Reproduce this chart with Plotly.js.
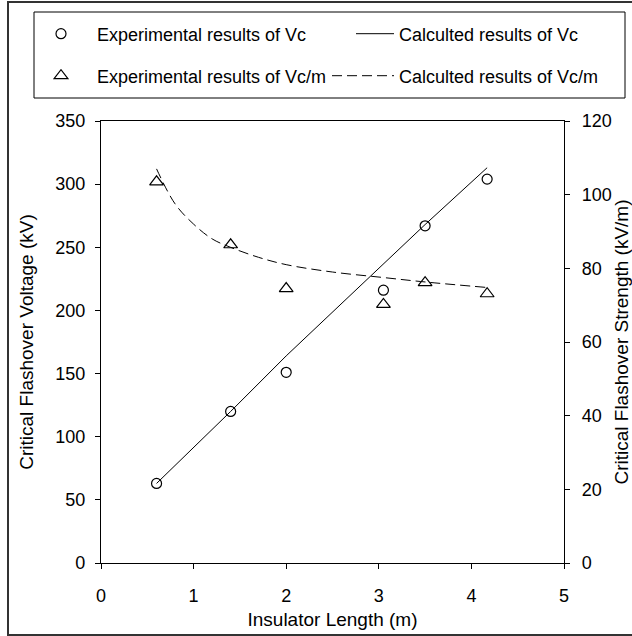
<!DOCTYPE html>
<html>
<head>
<meta charset="utf-8">
<script src="https://cdn.plot.ly/plotly-3.0.1.min.js"></script>
<style>html,body{margin:0;padding:0;background:#fff;}#chart{width:632px;height:636px;}</style>
</head>
<body>
<div id="chart"></div>
<script>
// Insulator length (m)
var lengthExp = [0.6, 1.4, 2.0, 3.05, 3.5, 4.17];
// Experimental critical flashover voltage (kV)
var vcExp = [63, 120, 151, 216, 267, 304];
// Calculated critical flashover voltage (kV)
var lengthCalc = [0.6, 1.4, 2.0, 3.05, 3.5, 4.17];
var vcCalc = [63, 120, 164, 237, 268, 313];
// Experimental critical flashover strength (kV/m)
var vcmExp = [103.5, 86.4, 74.5, 70.2, 76.1, 73.1];
// Calculated critical flashover strength (kV/m)
var lengthCalcM = [0.6, 0.8, 1.0, 1.2, 1.4, 1.7, 2.0, 2.5, 3.05, 3.5, 4.17];
var vcmCalc = [107, 97.5, 92, 88, 85.7, 83, 81, 79, 77.5, 76.3, 74.8];

var names = ["Experimental results of Vc", "Calculted results of Vc",
             "Experimental results of Vc/m", "Calculted results of Vc/m"];

var W = 632, H = 636, ML = 101, MR = 68, MT = 121, MB = 73;
var PW = W - ML - MR, PH = H - MT - MB;
function px(x) { return (x - ML) / PW; }
function py(y) { return (H - MB - y) / PH; }

var FONT = "Liberation Sans, Arial, sans-serif";
var traces = [
  { x: lengthExp, y: vcExp, name: names[0], type: "scatter", mode: "markers",
    marker: { symbol: "circle-open", size: 10, color: "#000", line: { width: 1.2, color: "#000" } },
    legend: "legend", yaxis: "y" },
  { x: lengthCalc, y: vcCalc, name: names[1], type: "scatter", mode: "lines",
    line: { color: "#000", width: 1 }, legend: "legend2", yaxis: "y" },
  { x: lengthExp, y: vcmExp, name: names[2], type: "scatter", mode: "markers",
    marker: { symbol: "triangle-up-open", size: 12, color: "#000", line: { width: 1.2, color: "#000" } },
    legend: "legend3", yaxis: "y2" },
  { x: lengthCalcM, y: vcmCalc, name: names[3], type: "scatter", mode: "lines",
    line: { color: "#000", width: 1, dash: "10px,5px", shape: "spline" }, legend: "legend4", yaxis: "y2" }
];

function leg(xp, yp, iw) {
  return { x: px(xp), y: py(yp), xanchor: "left", yanchor: "middle", orientation: "v",
           bgcolor: "rgba(0,0,0,0)", borderwidth: 0, itemwidth: iw,
           font: { family: FONT, size: 18, color: "#000" } };
}

var axisCommon = { showgrid: false, zeroline: false, showline: true, linecolor: "#000", linewidth: 1.2,
                   ticks: "outside", ticklen: 5, tickcolor: "#000", tickwidth: 1,
                   tickfont: { family: FONT, size: 18, color: "#000" } };
var titleFont = { family: FONT, size: 19, color: "#000" };

var layout = {
  width: W, height: H,
  margin: { l: ML, r: MR, t: MT, b: MB, pad: 0 },
  paper_bgcolor: "#fff", plot_bgcolor: "#fff",
  font: { family: FONT, size: 18, color: "#000" },
  showlegend: true,
  xaxis: Object.assign({}, axisCommon, { range: [0, 5], dtick: 1, tick0: 0, mirror: true, ticklabelstandoff: 11,
    title: { text: "Insulator Length (m)", font: titleFont, standoff: 8 } }),
  yaxis: Object.assign({}, axisCommon, { range: [0, 350], dtick: 50, tick0: 0, ticklabelstandoff: 6,
    title: { text: "Critical Flashover Voltage (kV)", font: titleFont, standoff: 16 } }),
  yaxis2: Object.assign({}, axisCommon, { range: [0, 120], dtick: 20, tick0: 0, overlaying: "y", side: "right",
    ticklabelstandoff: 8,
    title: { text: "Critical Flashover Strength (kV/m)", font: titleFont, standoff: 1 } }),
  yaxis3: { range: [0, 120], dtick: 20, tick0: 0, overlaying: "y", side: "right", showgrid: false, zeroline: false,
    showline: false, ticks: "inside", ticklen: 6, tickcolor: "#000", tickwidth: 1, showticklabels: false },
  legend: leg(25, 34, 62),
  legend2: leg(351, 34, 38),
  legend3: leg(25, 76, 62),
  legend4: leg(327, 76, 62),
  shapes: [
    { type: "rect", xref: "paper", yref: "paper", x0: px(34), x1: px(625), y0: py(98), y1: py(12),
      line: { color: "#000", width: 1 }, fillcolor: "rgba(0,0,0,0)" },
    { type: "rect", xref: "paper", yref: "paper", x0: px(8), x1: px(650), y0: py(635), y1: py(2),
      line: { color: "#333", width: 2 }, fillcolor: "rgba(0,0,0,0)" }
  ]
};

Plotly.newPlot("chart", traces, layout, { displayModeBar: false, staticPlot: true });
</script>
</body>
</html>
